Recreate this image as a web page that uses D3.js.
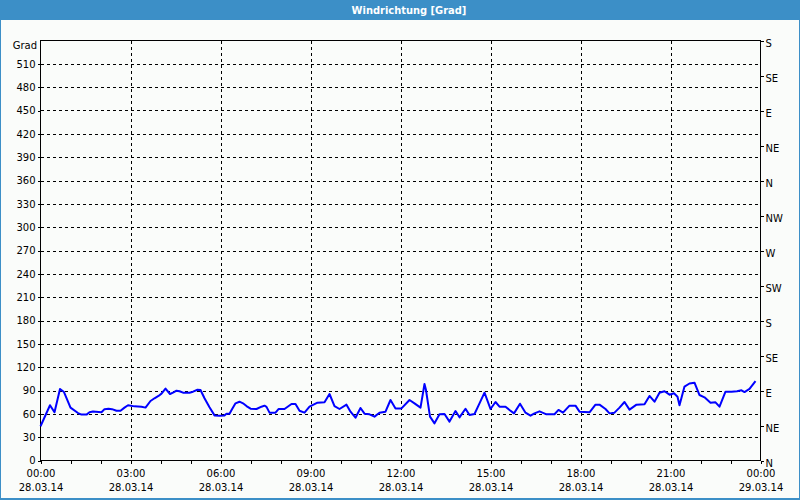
<!DOCTYPE html>
<html><head><meta charset="utf-8">
<script src="https://cdn.jsdelivr.net/npm/d3@7"></script>
<style>
body{margin:0;background:#fafcfa;}
svg{display:block;}
text{font-family:"DejaVu Sans",Verdana,sans-serif;font-size:10px;fill:#000;}
</style></head>
<body><svg id="chart" width="800" height="500"></svg>
<script>
// Sample times (minutes after 28.03.14 00:00) and wind direction in degrees
const sampleMinutes = [0,19,28,39,47,60,75,82,92,98,105,122,128,136,143,152,160,168,175,188,202,210,220,228,236,242,250,259,266,272,278,285,298,305,314,320,328,338,348,358,368,372,378,383,390,398,405,412,420,432,442,448,452,458,470,476,488,502,510,518,528,538,554,568,578,588,598,612,620,630,640,648,658,668,678,690,700,710,722,738,748,760,768,771,779,788,798,808,818,830,838,850,858,868,878,888,900,910,918,930,938,947,959,970,980,988,998,1012,1028,1036,1045,1058,1070,1078,1088,1098,1110,1118,1130,1138,1148,1158,1168,1178,1192,1208,1218,1228,1238,1248,1258,1267,1274,1278,1288,1298,1308,1318,1328,1340,1350,1358,1370,1382,1393,1402,1408,1418,1430];
const windDirection = [44,71,62,92,88,68,61,59,59,62,63,62,66,66.6,66,64,64,68,71,69.6,69,68,76.5,80,83,86,92.4,85.5,87.6,89.8,89,87.2,87.2,88.5,91,90.6,80,68.4,58,57.6,58,60,60,65.8,73.5,75.6,73.5,70,66.6,66.2,69.2,70.5,69,61.5,61.5,66.2,66.2,72.6,72.6,64,61.5,69.2,74.4,74.8,85.5,70,66.2,71.8,62.8,55,67.5,60.2,59.4,56.4,61.5,62.8,77.8,67,67,77.8,73.5,68,98.4,90.6,56.4,47.8,59.4,59.8,50,63.6,55.5,66.6,58.5,59.8,73.5,87.2,66.2,75.2,69.2,69.2,65,60.6,73,61.5,57.6,60.6,63.2,59.4,59.4,65,61.5,70.5,70.5,62.8,62.4,62,71.8,71.8,66.2,60.6,61.5,68,75.2,65.4,71.8,72.2,83,75.6,87.2,89,84.6,86.4,82,71,95,99,100,84.2,81.2,74.4,74.8,69.2,88.5,88.5,89,90.2,88,92,102];

const titleText = "Windrichtung [Grad]";
const unitLabel = "Grad";
const majorTimeTicks = [0,180,360,540,720,900,1080,1260,1440];
const minorTimeTicks = [0,60,120,180,240,300,360,420,480,540,600,660,720,780,840,900,960,1020,1080,1140,1200,1260,1320,1380,1440];
const timeLabels = ["00:00","03:00","06:00","09:00","12:00","15:00","18:00","21:00","00:00"];
const dateLabels = ["28.03.14","28.03.14","28.03.14","28.03.14","28.03.14","28.03.14","28.03.14","28.03.14","29.03.14"];
const gradTicks = [0,30,60,90,120,150,180,210,240,270,300,330,360,390,420,450,480,510];
const compassTicks = [0,45,90,135,180,225,270,315,360,405,450,495,540];
const compassLabels = ["N","NE","E","SE","S","SW","W","NW","N","NE","E","SE","S"];
const yMax = 540, xMax = 1440;

const svg = d3.select("#chart");
const W = 800, H = 500;
const L = 40.5, R = 760.5, T = 40.5, B = 460.5;

svg.append("rect").attr("width",W).attr("height",H).attr("fill","#fafcfa");
// frame
svg.append("rect").attr("x",0).attr("y",0).attr("width",W).attr("height",20).attr("fill","#3c8fc7");
svg.append("rect").attr("x",0).attr("y",0).attr("width",1).attr("height",H).attr("fill","#3c8fc7");
svg.append("rect").attr("x",W-1).attr("y",0).attr("width",1).attr("height",H).attr("fill","#3c8fc7");
svg.append("rect").attr("x",0).attr("y",H-2).attr("width",W).attr("height",2).attr("fill","#3c8fc7");
svg.append("text").attr("x",409).attr("y",14).attr("text-anchor","middle")
  .style("font-weight","bold").style("font-size","11px").style("fill","#fff")
  .style("font-family","'DejaVu Sans Condensed','DejaVu Sans',sans-serif")
  .text(titleText);

const x = d3.scaleLinear().domain([0,xMax]).range([L,R]);
const y = d3.scaleLinear().domain([0,yMax]).range([B,T]);

// grid
const grid = svg.append("g").attr("stroke","#000").attr("stroke-dasharray","3,3").attr("shape-rendering","crispEdges");
grid.selectAll("line.h").data(gradTicks.filter(d=>d>0)).join("line")
  .attr("x1",L).attr("x2",R).attr("y1",d=>Math.round(y(d))+0.5).attr("y2",d=>Math.round(y(d))+0.5);
grid.selectAll("line.v").data(majorTimeTicks.filter(d=>d>0&&d<xMax)).join("line")
  .attr("class","v").attr("y1",T).attr("y2",B).attr("x1",d=>Math.round(x(d))+0.5).attr("x2",d=>Math.round(x(d))+0.5);

// left axis
const yAxisL = d3.axisLeft(y).tickValues(gradTicks).tickSize(3).tickSizeOuter(0).tickPadding(2);
const gL = svg.append("g").attr("transform",`translate(${L},0)`).call(yAxisL);
gL.select(".domain").remove();
gL.selectAll("line").attr("shape-rendering","crispEdges");
gL.selectAll("text").style("font-size","10px").style("font-family","'DejaVu Sans',sans-serif");
svg.append("text").attr("x",37).attr("y",49).attr("text-anchor","end").text(unitLabel);

// right axis
const yAxisR = d3.axisRight(y).tickValues(compassTicks).tickFormat((d,i)=>compassLabels[i]).tickSize(3).tickSizeOuter(0).tickPadding(2);
const gR = svg.append("g").attr("transform",`translate(${R},0)`).call(yAxisR);
gR.select(".domain").remove();
gR.selectAll("line").attr("shape-rendering","crispEdges");
gR.selectAll("text").style("font-size","10px").style("font-family","'DejaVu Sans',sans-serif").attr("dy","0.6em");

// bottom minor ticks
const xAxisMinor = d3.axisBottom(x).tickValues(minorTimeTicks).tickSize(3).tickSizeOuter(0).tickFormat("");
const gBm = svg.append("g").attr("transform",`translate(0,${B})`).call(xAxisMinor);
gBm.select(".domain").remove();
gBm.selectAll("line").attr("shape-rendering","crispEdges");
// bottom labels
const xAxisLab = d3.axisBottom(x).tickValues(majorTimeTicks).tickSize(0).tickSizeOuter(0).tickPadding(9).tickFormat((d,i)=>timeLabels[i]);
const gB = svg.append("g").attr("transform",`translate(0,${B})`).call(xAxisLab);
gB.select(".domain").remove();
gB.selectAll("text").style("font-size","10px").style("font-family","'DejaVu Sans',sans-serif")
  .each(function(d,i){
    const t = d3.select(this);
    t.append("tspan").attr("x",0).attr("dy","1.4em").text(dateLabels[i]);
  });

// plot border
svg.append("rect").attr("x",L).attr("y",T).attr("width",R-L).attr("height",B-T)
  .attr("fill","none").attr("stroke","#000").attr("shape-rendering","crispEdges");

// data line
const pts = sampleMinutes.map((m,i)=>[m,windDirection[i]]);
svg.append("path").datum(pts)
  .attr("fill","none").attr("stroke","#0000ff").attr("stroke-width",2).attr("stroke-linejoin","round")
  .attr("d",d3.line().x(d=>x(d[0])).y(d=>y(d[1])));
</script></body></html>
